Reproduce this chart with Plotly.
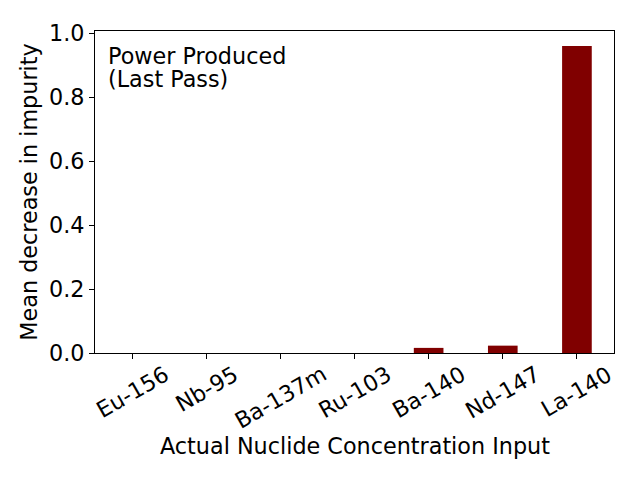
import plotly.graph_objects as go

categories = ["Eu-156", "Nb-95", "Ba-137m", "Ru-103", "Ba-140", "Nd-147", "La-140"]
values = [0.0, 0.0, 0.0, 0.0, 0.016, 0.023, 0.961]
y_ticks = [0.0, 0.2, 0.4, 0.6, 0.8, 1.0]
note_lines = ["Power Produced", "(Last Pass)"]

FONT = "DejaVu Sans"
FS = 22.3

fig = go.Figure()
fig.add_trace(go.Bar(
    x=list(range(len(categories))), y=values, width=0.4,
    marker=dict(color="#800000", line=dict(width=0)),
))

annotations = []
for i, c in enumerate(categories):
    annotations.append(dict(
        x=i, y=0, xref="x", yref="paper", text=c, showarrow=False,
        textangle=-30, xanchor="center", yanchor="top", yshift=-5,
        font=dict(family=FONT, size=FS, color="black"),
    ))
annotations.append(dict(
    x=0.5, y=0, xref="paper", yref="paper", text="Actual Nuclide Concentration Input",
    showarrow=False, xanchor="center", yanchor="top", yshift=-78,
    font=dict(family=FONT, size=FS, color="black"),
))
for j, line in enumerate(note_lines):
    annotations.append(dict(
        x=0.021, y=1, xref="paper", yref="paper", text=line,
        showarrow=False, xanchor="left", yanchor="top", align="left",
        yshift=-10 - 23 * j,
        font=dict(family=FONT, size=FS, color="black"),
    ))

fig.update_layout(
    width=640, height=480,
    margin=dict(l=87, r=34, t=23, b=135),
    paper_bgcolor="white", plot_bgcolor="white",
    showlegend=False,
    font=dict(family=FONT, size=FS, color="black"),
    annotations=annotations,
    xaxis=dict(
        range=[-0.5, 6.5], tickmode="array", tickvals=list(range(len(categories))),
        showticklabels=False, ticks="outside", ticklen=5, tickwidth=1, tickcolor="black",
        showline=True, linecolor="black", linewidth=1, mirror=True,
        showgrid=False, zeroline=False,
    ),
    yaxis=dict(
        range=[0, 1.008], tickmode="array", tickvals=y_ticks, tickformat=".1f",
        ticks="outside", ticklen=5, tickwidth=1, tickcolor="black",
        showline=True, linecolor="black", linewidth=1, mirror=True,
        showgrid=False, zeroline=False,
        title=dict(text="Mean decrease in impurity", standoff=5,
                   font=dict(family=FONT, size=FS, color="black")),
    ),
)

fig.write_html("out.html")
